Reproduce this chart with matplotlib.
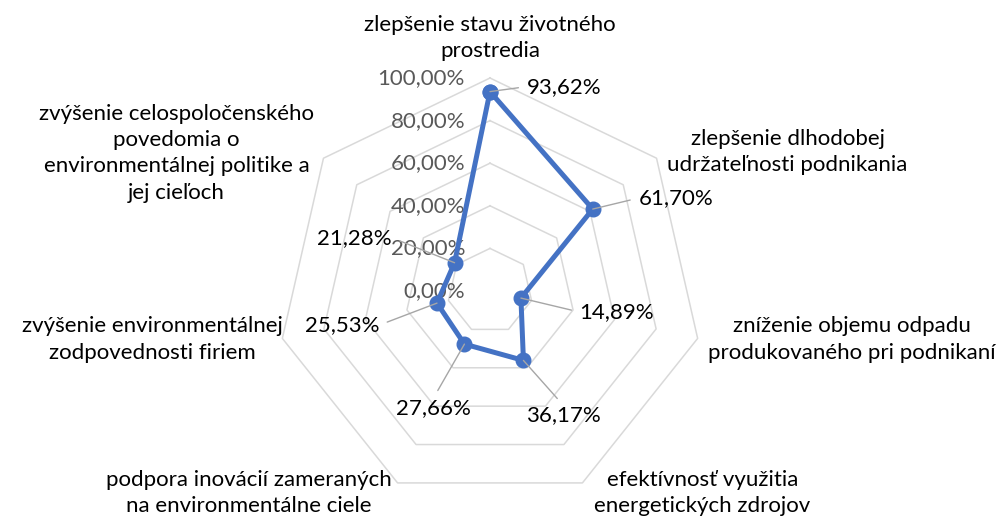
import numpy as np
import matplotlib.pyplot as plt

categories = [
    "zlepšenie stavu životného\nprostredia",
    "zlepšenie dlhodobej\nudržateľnosti podnikania",
    "zníženie objemu odpadu\nprodukovaného pri podnikaní",
    "efektívnosť využitia\nenergetických zdrojov",
    "podpora inovácií zameraných\nna environmentálne ciele",
    "zvýšenie environmentálnej\nzodpovednosti firiem",
    "zvýšenie celospoločenského\npovedomia o\nenvironmentálnej politike a\njej cieľoch",
]
values = [93.62, 61.70, 14.89, 36.17, 27.66, 25.53, 21.28]
value_labels = ["93,62%", "61,70%", "14,89%", "36,17%", "27,66%", "25,53%", "21,28%"]
tick_levels = [0, 20, 40, 60, 80, 100]
tick_labels = ["0,00%", "20,00%", "40,00%", "60,00%", "80,00%", "100,00%"]

# label placement (pixel offsets from the outer vertex / from the point)
cat_offsets = [(0, 40), (131, 6), (154, -1), (120, -10), (-149, -10), (-130, -1), (-147, 5)]
val_offsets = [(74, 5), (83, 11), (96, -14), (40, -55), (-31, -64), (-95, -22), (-100, 25)]
val_relpos = [(0, 0.5), (0, 0.5), (0, 0.5), (0.5, 1), (0.5, 1), (1, 0.5), (1, 0.5)]

plt.rcParams['font.family'] = ['Lato', 'DejaVu Sans']

fig = plt.figure(figsize=(10, 5.18), dpi=100)
ax = fig.add_axes([0.277, 0.027, 0.426, 0.8224], projection='polar')
ax.set_theta_offset(np.pi / 2)
ax.set_theta_direction(-1)
ax.set_ylim(0, 100)
ax.grid(False)
ax.spines['polar'].set_visible(False)
ax.set_xticks([])
ax.set_yticks([])
ax.patch.set_visible(False)

n = len(categories)
theta = np.arange(n) * 2 * np.pi / n
theta_closed = np.append(theta, theta[0])

for lvl in tick_levels[1:]:
    ax.plot(theta_closed, [lvl] * (n + 1), color='#D9D9D9', lw=1.1, zorder=1, clip_on=False)

vals_closed = np.append(values, values[0])
ax.plot(theta_closed, vals_closed, color='#4472C4', lw=3.6, marker='o', ms=10.5,
        solid_joinstyle='round', zorder=3, clip_on=False)

fs = 16
for lvl, lab in zip(tick_levels, tick_labels):
    ax.annotate(lab, xy=(0, lvl), xytext=(-25, 0), textcoords='offset pixels',
                ha='right', va='center', fontsize=fs, color='#595959', zorder=2)

for k in range(n):
    ax.annotate(categories[k], xy=(theta[k], 100), xytext=cat_offsets[k],
                textcoords='offset pixels', ha='center', va='center',
                fontsize=fs, color='black', linespacing=1.4, annotation_clip=False)

for k in range(n):
    ax.annotate(value_labels[k], xy=(theta[k], values[k]), xytext=val_offsets[k],
                textcoords='offset pixels', ha='center', va='center', fontsize=fs,
                color='black', zorder=4, annotation_clip=False,
                arrowprops=dict(arrowstyle='-', color='#A6A6A6', lw=1.0,
                                relpos=val_relpos[k], shrinkA=4, shrinkB=0))

fig.savefig('out.png', dpi=100)
